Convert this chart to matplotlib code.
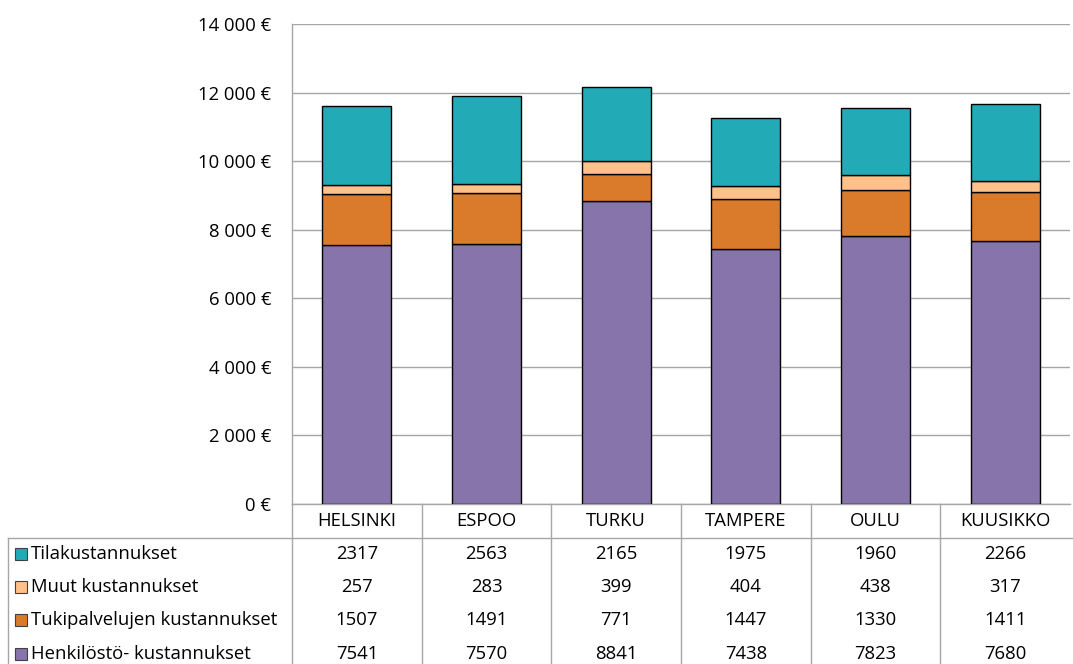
import matplotlib
matplotlib.use("Agg")
import matplotlib.pyplot as plt
from matplotlib.patches import Rectangle
from matplotlib.lines import Line2D
from matplotlib.ticker import FuncFormatter

categories = ["HELSINKI", "ESPOO", "TURKU", "TAMPERE", "OULU", "KUUSIKKO"]
henkilosto = [7541, 7570, 8841, 7438, 7823, 7680]
tukipalvelut = [1507, 1491, 771, 1447, 1330, 1411]
muut = [257, 283, 399, 404, 438, 317]
tila = [2317, 2563, 2165, 1975, 1960, 2266]

series_names = ["Henkilöstö- kustannukset", "Tukipalvelujen kustannukset",
                "Muut kustannukset", "Tilakustannukset"]
series_values = [henkilosto, tukipalvelut, muut, tila]
colors = ["#8674AA", "#DA7A2B", "#FFC18A", "#22AAB6"]

plt.rcParams['font.family'] = ['Open Sans', 'DejaVu Sans']
FS = 13.3

W, H = 1073, 664
fig = plt.figure(figsize=(W / 100, H / 100), dpi=100)
left_px, right_px, top_px, bottom_px = 292, 1070, 24, 504
ax = fig.add_axes([left_px / W, 1 - bottom_px / H, (right_px - left_px) / W,
                   (bottom_px - top_px) / H])

x = list(range(len(categories)))
bottoms = [0] * len(categories)
for vals, col in zip(series_values, colors):
    ax.bar(x, vals, bottom=bottoms, width=0.53, color=col, edgecolor="black",
           linewidth=1.0, zorder=3)
    bottoms = [b + v for b, v in zip(bottoms, vals)]

ax.set_xlim(-0.5, len(categories) - 0.5)
ax.set_ylim(0, 14000)
ax.set_yticks(range(0, 14001, 2000))
ax.yaxis.set_major_formatter(FuncFormatter(
    lambda v, p: ("{:,}".format(int(v)).replace(",", " ") + " €")))
ax.tick_params(axis="y", length=0, pad=15, labelsize=FS)
ax.set_xticks([])
ax.grid(axis="y", color="#A6A6A6", linewidth=1.0, zorder=0)
for s in ["top", "right"]:
    ax.spines[s].set_visible(False)
ax.spines["left"].set_color("#A6A6A6")
ax.spines["bottom"].set_color("#A6A6A6")
ax.spines["left"].set_linewidth(1.0)
ax.spines["bottom"].set_linewidth(1.0)

def fx(px):
    return px / W

def fy(py):
    return 1 - py / H

line_col = "#A6A6A6"
col_w = (right_px - left_px) / len(categories)
header_bottom = 538
legend_left = 8
row_h = 33.3

fig.add_artist(Line2D([fx(legend_left), fx(right_px + 3)], [fy(header_bottom)] * 2,
                      color=line_col, lw=1.0))
for i in range(len(categories)):
    xp = left_px + i * col_w
    fig.add_artist(Line2D([fx(xp)] * 2, [fy(bottom_px), fy(H + 5)], color=line_col, lw=1.0))
fig.add_artist(Line2D([fx(legend_left)] * 2, [fy(header_bottom), fy(H + 5)],
                      color=line_col, lw=1.0))

for i, c in enumerate(categories):
    fig.text(fx(left_px + (i + 0.5) * col_w), fy((bottom_px + header_bottom) / 2),
             c, ha="center", va="center", fontsize=FS)

rows = list(zip(series_names, series_values, colors))[::-1]
for r, (name, vals, col) in enumerate(rows):
    yc = header_bottom + (r + 0.5) * row_h - 1
    fig.add_artist(Rectangle((fx(legend_left + 7), fy(yc + 6)), 12 / W, 12 / H,
                             facecolor=col, edgecolor="#404040", lw=0.8))
    fig.text(fx(legend_left + 23), fy(yc), name, ha="left", va="center", fontsize=FS)
    for i, v in enumerate(vals):
        fig.text(fx(left_px + (i + 0.5) * col_w), fy(yc), str(v),
                 ha="center", va="center", fontsize=FS)

fig.savefig("out.png", dpi=100)
